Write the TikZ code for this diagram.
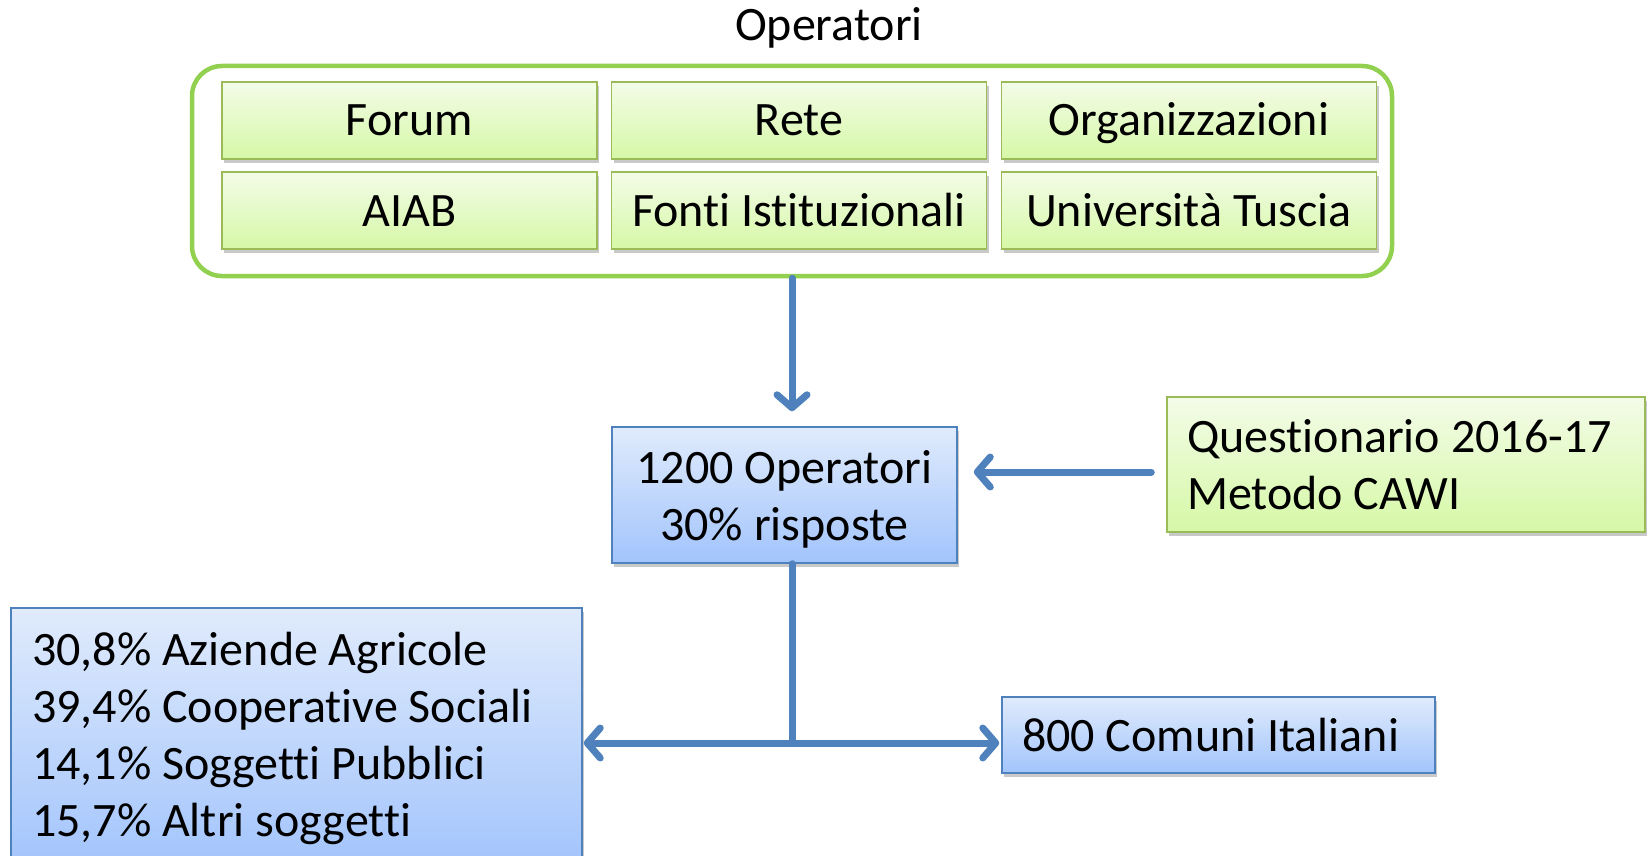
\documentclass[tikz,border=0pt]{standalone}
\usepackage{fontspec}
\setmainfont{Carlito}[Ligatures=NoCommon]
\usetikzlibrary{arrows.meta,shadows}
\definecolor{opgreen}{RGB}{146,208,80}
\definecolor{boxgreen}{RGB}{155,187,89}
\definecolor{gtop}{RGB}{243,252,232}
\definecolor{gbot}{RGB}{214,248,166}
\definecolor{boxblue}{RGB}{79,129,189}
\definecolor{btop}{RGB}{224,235,252}
\definecolor{bbot}{RGB}{162,196,252}
\newcommand{\bigtext}{\fontsize{48}{57}\selectfont}

\begin{document}
\begin{tikzpicture}[x=1pt,y=-1pt,
  font=\bigtext,
  myshadow/.style={drop shadow={shadow xshift=2pt,shadow yshift=-4pt,opacity=.3,fill=black!70}},
  gbox/.style={draw=boxgreen,line width=1.5pt,top color=gtop,bottom color=gbot,
    minimum width=375,minimum height=77,inner sep=0pt,text height=31pt,text depth=0pt,myshadow},
  bbox/.style={draw=boxblue,line width=1.5pt,top color=btop,bottom color=bbot,myshadow},
  arr/.style={draw=boxblue,line width=7pt,line cap=round},
  >={Straight Barb[length=13pt,width=30pt,round]}]

 \path[use as bounding box] (0,0) rectangle (1647,856);
 \clip (0,0) rectangle (1647,856);

 \node (title) at (829,28) {Operatori};
 \node[draw=opgreen,line width=4.5pt,rounded corners=30pt,
   minimum width=1200,minimum height=210] (grp) at (792,171) {};

 \node[gbox] (forum) at (409.5,120.5) {Forum};
 \node[gbox] (rete) at (799,120.5) {Rete};
 \node[gbox] (org) at (1189,120.5) {Organizzazioni};
 \node[gbox] (aiab) at (409.5,210.5) {AIAB};
 \node[gbox] (fonti) at (799,210.5) {Fonti Istituzionali};
 \node[gbox] (unitus) at (1189,210.5) {Università Tuscia};

 \node[bbox,minimum width=345,minimum height=136,text depth=0pt,align=center] (oper) at (784.5,495)
   {1200 Operatori\\30\% risposte};
 \node[gbox,minimum width=478,minimum height=135,inner xsep=20pt,text height=,text depth=,
   text width=438,align=flush left] (quest) at (1406,464.5)
   {Questionario 2016-17\\Metodo CAWI};
 \node[bbox,minimum height=76,inner xsep=20pt,text width=393,align=flush left]
   (comuni) at (1218.5,735) {800 Comuni Italiani};
 \node[bbox,minimum height=260,inner xsep=21pt,text width=529,align=flush left]
   (sogg) at (296.5,738)
   {30,8\% Aziende Agricole\\39,4\% Cooperative Sociali\\14,1\% Soggetti Pubblici\\15,7\% Altri soggetti};

 \coordinate (split) at (792,743);
 \draw[arr,->,shorten >=15pt] (grp.south) -- (grp.south |- oper.north);
 \draw[arr,->,shorten <=15pt,shorten >=16pt] ([yshift=-7.5pt]quest.west) -- ([yshift=-7.5pt]quest.west -| oper.east);
 \draw[arr] (oper.south -| split) -- (split);
 \draw[arr,<->,shorten <=1pt,shorten >=2pt] (split -| sogg.east) -- (split -| comuni.west);

\end{tikzpicture}
\end{document}
